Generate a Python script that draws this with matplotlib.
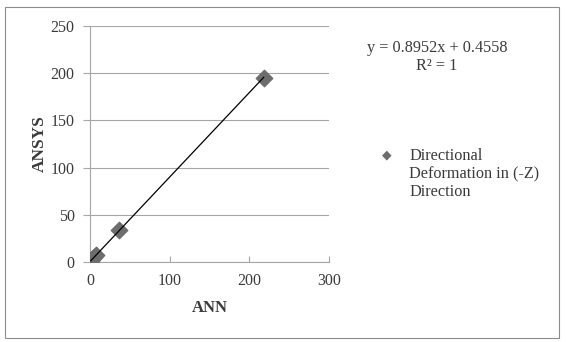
import numpy as np
import matplotlib.pyplot as plt

plt.rcParams['font.family'] = ['Liberation Serif', 'DejaVu Serif']

# data
ann = [1.0, 3.0, 5.0, 8.0, 36.0, 218.0]
ansys = [1.5, 3.5, 5.0, 7.5, 34.0, 195.0]
slope, intercept = 0.8952, 0.4558
label = "Directional\nDeformation in (-Z)\nDirection"
eq_text = "y = 0.8952x + 0.4558\nR² = 1"

grey = "#a6a6a6"
marker_col = "#6d6d6d"
text_col = "#3a3a3a"

fig = plt.figure(figsize=(5.66, 3.42), dpi=100)
fig.patches.append(plt.Rectangle((5 / 566, 1 - 338 / 342), 554 / 566, 331 / 342,
                                 transform=fig.transFigure, fill=False,
                                 edgecolor="#8c8c8c", linewidth=0.8))

ax = fig.add_axes([90 / 566, 1 - 262 / 342, 239 / 566, 236 / 342])

ax.scatter(ann, ansys, marker="D", s=70, color=marker_col, zorder=3)
xs = np.array([min(ann), max(ann)])
ax.plot(xs, slope * xs + intercept, color="black", linewidth=0.9, zorder=4)

ax.set_xlim(0, 300)
ax.set_ylim(0, 250)
ax.set_xticks([0, 100, 200, 300])
ax.set_yticks([0, 50, 100, 150, 200, 250])
ax.yaxis.grid(True, color=grey, linewidth=0.8)
ax.set_axisbelow(True)

for s in ["top", "right"]:
    ax.spines[s].set_visible(False)
for s in ["left", "bottom"]:
    ax.spines[s].set_color(grey)
    ax.spines[s].set_linewidth(0.8)

ax.tick_params(axis="x", direction="in", length=4, color=grey, labelsize=11.5,
               labelcolor=text_col, pad=8)
ax.tick_params(axis="y", direction="out", length=5, color=grey, labelsize=11.5,
               labelcolor=text_col, pad=6)

ax.set_xlabel("ANN", fontsize=12, fontweight="bold", color=text_col, labelpad=8)
ax.set_ylabel("ANSYS", fontsize=12.5, fontweight="bold", color=text_col, labelpad=2)

fig.text(437 / 566, 1 - 57 / 342, eq_text, ha="center", va="center",
         fontsize=11.7, color=text_col, linespacing=1.1)

fig.text(387 / 566, 1 - 155 / 342, "◆", ha="center", va="center",
         fontsize=9, color=marker_col, family=["DejaVu Sans"])
fig.text(409 / 566, 1 - 174 / 342, label, ha="left", va="center",
         fontsize=11.7, color=text_col, linespacing=1.15)

fig.savefig("out.png", dpi=100)
